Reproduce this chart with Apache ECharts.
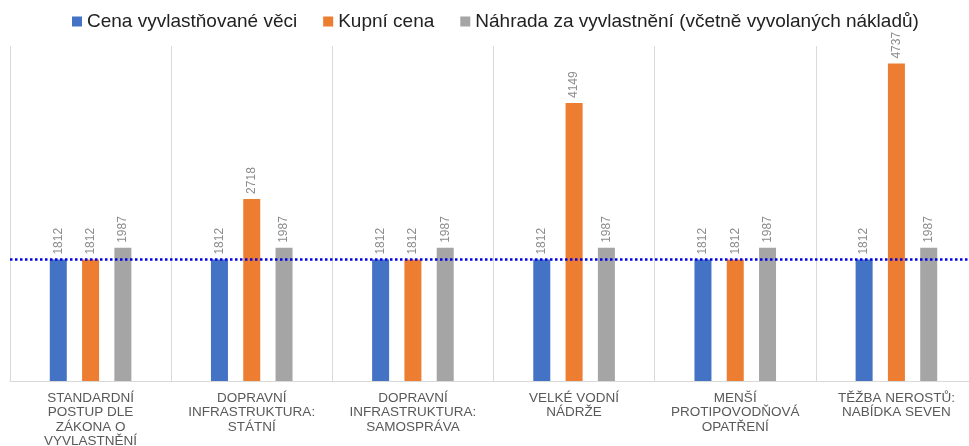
<!DOCTYPE html>
<html>
<head>
<meta charset="utf-8">
<script src="https://cdn.jsdelivr.net/npm/echarts@6/dist/echarts.min.js"></script>
<style>
	html, body { margin: 0; padding: 0; background: #fff; }
	#chart { width: 969px; height: 446px; }
</style>
</head>
<body>
<div id="chart"></div>
<script>
// kategorie (zalomení řádků jako v originále)
const categories = [
	"STANDARDNÍ\nPOSTUP DLE\nZÁKONA O\nVYVLASTNĚNÍ",
	"DOPRAVNÍ\nINFRASTRUKTURA:\nSTÁTNÍ",
	"DOPRAVNÍ\nINFRASTRUKTURA:\nSAMOSPRÁVA",
	"VELKÉ VODNÍ\nNÁDRŽE",
	"MENŠÍ\nPROTIPOVODŇOVÁ\nOPATŘENÍ",
	"TĚŽBA NEROSTŮ:\nNABÍDKA SEVEN"
];
const seriesNames = [
	"Cena vyvlastňované věci",
	"Kupní cena",
	"Náhrada za vyvlastnění (včetně vyvolaných nákladů)"
];
const cenaVeci = [1812, 1812, 1812, 1812, 1812, 1812];
const kupniCena = [1812, 2718, 1812, 4149, 1812, 4737];
const nahrada = [1987, 1987, 1987, 1987, 1987, 1987];
const referenceLine = 1812;

(function () {
	let myChart = echarts.init(document.getElementById('chart'));
	const font = "'Liberation Sans', Arial, sans-serif";
	// popisky hodnot nad sloupci
	const valueLabel = {
		show: true,
		position: 'top',
		rotate: 90,
		align: 'left',
		verticalAlign: 'middle',
		distance: 5,
		color: '#8c8c8c',
		fontSize: 12,
		fontFamily: font
	};
	const colors = ['#4472c4', '#ed7d31', '#a5a5a5'];
	const datasets = [cenaVeci, kupniCena, nahrada];
	const series = datasets.map(function (d, i) {
		return {
			name: seriesNames[i],
			type: 'bar',
			data: d,
			barWidth: 17,
			barGap: '90%',
			itemStyle: { color: colors[i] },
			label: valueLabel
		};
	});
	// tečkovaná čára na úrovni ceny věci
	series[0].markLine = {
		silent: true,
		symbol: 'none',
		label: { show: false },
		lineStyle: { color: '#0000e6', type: 'dotted', width: 2.5 },
		data: [{ yAxis: referenceLine }]
	};

	const option = {
		animation: false,
		color: colors,
		textStyle: { fontFamily: font },
		legend: {
			top: 7,
			left: 67,
			itemWidth: 10,
			itemHeight: 10,
			itemGap: 26,
			icon: 'rect',
			textStyle: { fontSize: 19, color: '#222', fontFamily: font }
		},
		grid: {
			left: 10,
			right: -8,
			top: 46,
			bottom: 65,
			containLabel: false,
			outerBoundsMode: 'none'
		},
		xAxis: {
			type: 'category',
			data: categories,
			axisTick: { show: false },
			axisLine: { lineStyle: { color: '#d9d9d9', width: 1 } },
			splitLine: { show: true, lineStyle: { color: '#d9d9d9' } },
			axisLabel: {
				interval: 0,
				margin: 10,
				color: '#595959',
				fontSize: 13.5,
				lineHeight: 14.5,
				fontFamily: font
			}
		},
		yAxis: {
			type: 'value',
			min: 0,
			max: 5000,
			show: false,
			splitLine: { show: false }
		},
		series: series
	};
	myChart.setOption(option);
	window.addEventListener("resize", function () {
		myChart.resize();
	});
})();
</script>
</body>
</html>
